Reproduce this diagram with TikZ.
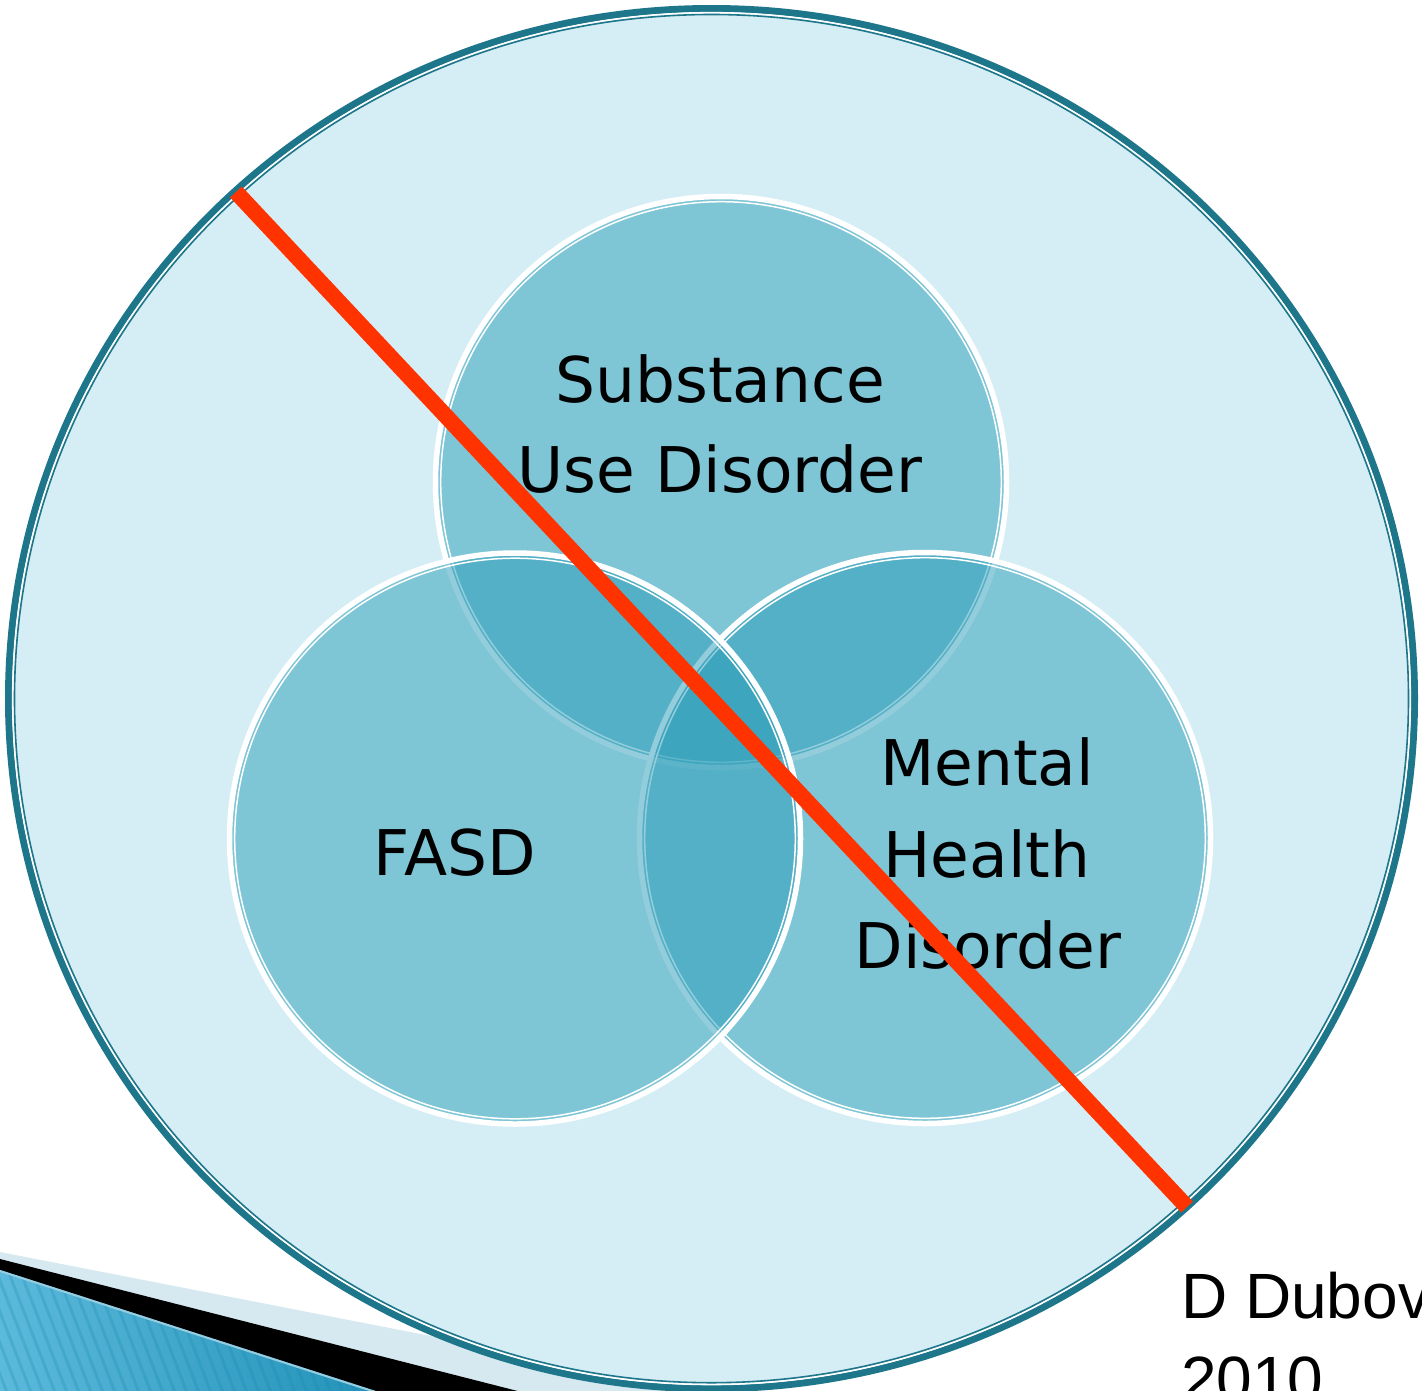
\documentclass[tikz,border=0pt]{standalone}
\usepackage{fontspec}
\setmainfont{DejaVu Sans}
\newfontfamily\creditfont{Liberation Sans}
\definecolor{ringteal}{RGB}{30,118,139}
\definecolor{paleblue}{RGB}{213,238,245}
\definecolor{vennblue}{RGB}{41,157,184}
\definecolor{crossred}{RGB}{255,51,0}
\definecolor{bandblue}{RGB}{214,233,240}
\definecolor{stripelight}{RGB}{92,186,220}
\definecolor{stripedark}{RGB}{22,137,176}
\definecolor{stripeedge}{RGB}{150,205,225}

\begin{document}
\begin{tikzpicture}[x=1pt,y=-1pt,
  setlabel/.style={font=\fontsize{63}{91}\selectfont, anchor=base, inner sep=0pt},
  credit/.style={font=\creditfont\fontsize{64}{83}\selectfont, anchor=base west, inner sep=0pt},
  vennset/.style={fill=vennblue, fill opacity=0.5},
  vennrim/.style={draw=white, line width=5.5pt},
  venninner/.style={draw=white, line width=1.5pt},
]
\useasboundingbox (0,0) rectangle (1422,1390);
\fill[white] (0,0) rectangle (1422,1390);
\begin{scope}
\clip (0,0) rectangle (1422,1390);

% corner ribbon of the slide template
\fill[bandblue] (0,1252) -- (1100,1466.5) -- (0,1466.5) -- cycle;
\fill[black] (0,1259) -- (700,1437.5) -- (0,1437.5) -- cycle;
\begin{scope}
  \clip (0,1270) -- (450,1414.9) -- (0,1414.9) -- cycle;
  \shade[left color=stripelight, right color=stripedark] (0,1260) rectangle (460,1420);
  \foreach \s in {-80,-68,...,470}
    \draw[stripedark, opacity=0.25, line width=3pt] (\s,1260) -- ++(62,161);
\end{scope}
\draw[stripeedge, line width=2pt] (0,1271) -- (450,1416);

% outer circle with double rim
\coordinate (world) at (711.5,698.6);
\fill[paleblue] (world) ellipse [x radius=701pt, y radius=688pt];
\draw[ringteal, line width=7pt] (world) ellipse [x radius=703pt, y radius=690.1pt];
\draw[white, line width=1.8pt] (world) ellipse [x radius=698.7pt, y radius=685.8pt];
\draw[ringteal, line width=1.6pt] (world) ellipse [x radius=697pt, y radius=684.1pt];

% three overlapping sets
\coordinate (sudc) at (721,482);
\coordinate (mhdc) at (925,838);
\coordinate (fasdc) at (515,838.5);
\foreach \c in {sudc,mhdc,fasdc}{
  \fill[vennset] (\c) circle [radius=285.5pt];
  \path[vennrim] (\c) circle [radius=285.5pt];
  \path[venninner] (\c) circle [radius=280.3pt];
}

% set labels
\node[setlabel] (sud1) at (720,402) {Substance};
\node[setlabel] (sud2) at (720,492) {Use Disorder};
\node[setlabel] (fasd) at (455,875) {FASD};
\node[setlabel] (mhd1) at (987,785) {Mental};
\node[setlabel] (mhd2) at (987,877) {Health};
\node[setlabel] (mhd3) at (988,968) {Disorder};

% strike-through
\coordinate (crossA) at (236,192);
\coordinate (crossB) at (1187,1207);
\draw[crossred, line width=16pt] (crossA) -- (crossB);

% credit
\node[credit] (credit1) at (1181,1318) {D Dubovsky};
\node[credit] (credit2) at (1181,1401) {2010};
\end{scope}
\end{tikzpicture}
\end{document}
